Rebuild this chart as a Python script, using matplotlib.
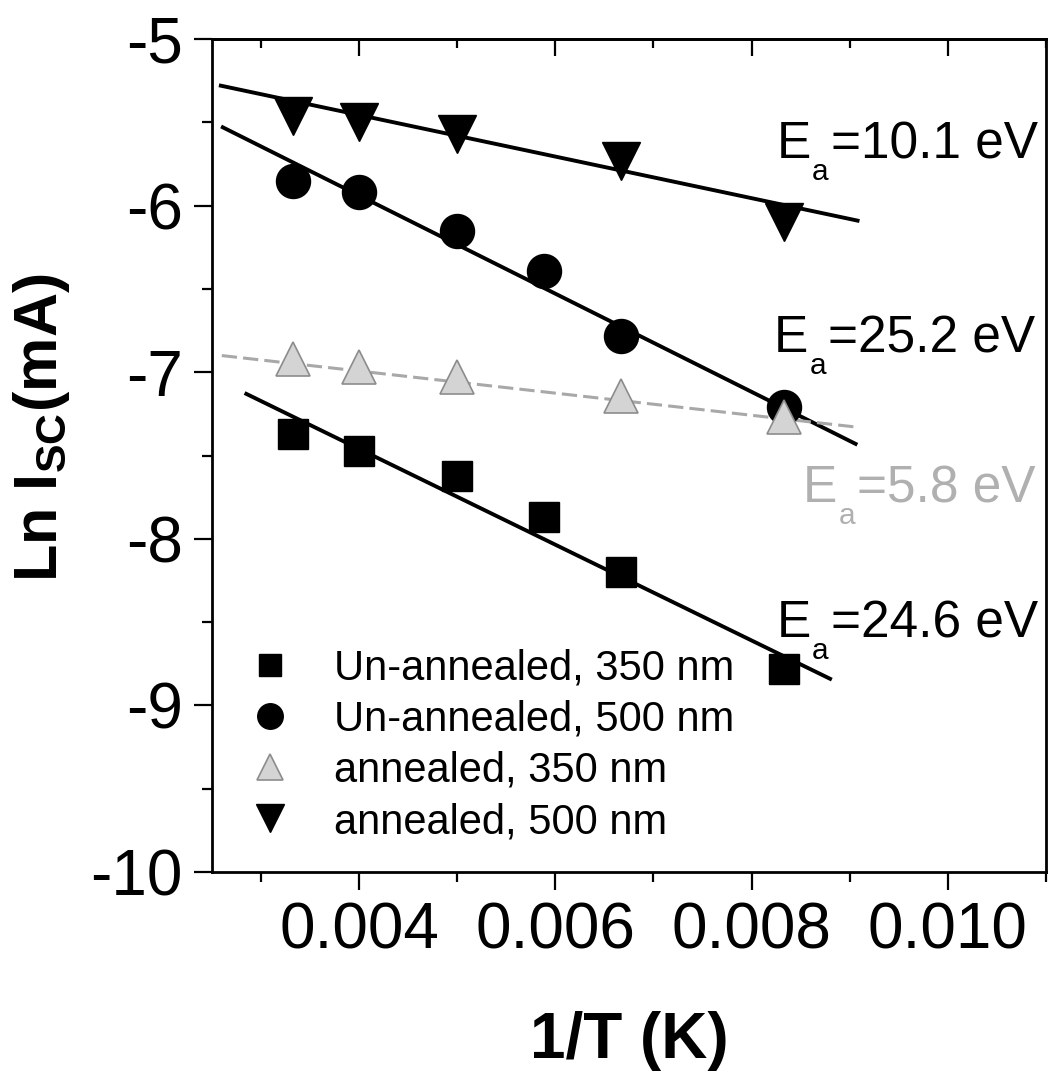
import numpy as np
import matplotlib.pyplot as plt
from matplotlib.ticker import MultipleLocator, FormatStrFormatter, NullFormatter

plt.rcParams['font.family'] = ['Liberation Sans', 'DejaVu Sans']
plt.rcParams['mathtext.fontset'] = 'custom'
plt.rcParams['mathtext.rm'] = 'Liberation Sans'
plt.rcParams['mathtext.bf'] = 'Liberation Sans:bold'
plt.rcParams['axes.unicode_minus'] = False

# 1/T values (300, 250, 200, 170, 150, 120 K)
inv_t_6 = [0.00333, 0.00400, 0.00500, 0.00588, 0.00667, 0.00833]
inv_t_5 = [0.00333, 0.00400, 0.00500, 0.00667, 0.00833]

# Ln Isc values
unann_350 = [-7.37, -7.47, -7.62, -7.87, -8.20, -8.78]
unann_500 = [-5.85, -5.92, -6.15, -6.39, -6.78, -7.21]
ann_350 = [-6.92, -6.97, -7.03, -7.14, -7.27]
ann_500 = [-5.46, -5.50, -5.57, -5.73, -6.10]

# linear fits as drawn (start / end)
unann_350_fit_x = [0.00285, 0.00880]
unann_350_fit_y = [-7.13, -8.84]
unann_500_fit_x = [0.00261, 0.00906]
unann_500_fit_y = [-5.53, -7.43]
ann_350_fit_x = [0.00260, 0.00908]
ann_350_fit_y = [-6.90, -7.33]
ann_500_fit_x = [0.00259, 0.00908]
ann_500_fit_y = [-5.28, -6.09]

legend_labels = ["Un-annealed, 350 nm", "Un-annealed, 500 nm",
                 "annealed, 350 nm", "annealed, 500 nm"]
ea_values = ["10.1 eV", "25.2 eV", "5.8 eV", "24.6 eV"]

gray_face = "#d4d4d4"
gray_edge = "#8c8c8c"
gray_line = "#a8a8a8"

fig = plt.figure(figsize=(10.48, 10.75), dpi=100)
ax = fig.add_axes([0.2023, 0.1888, 0.7957, 0.7749])

# fit lines
ax.plot(unann_350_fit_x, unann_350_fit_y, color="black", lw=2.8)
ax.plot(unann_500_fit_x, unann_500_fit_y, color="black", lw=2.8)
ax.plot(ann_350_fit_x, ann_350_fit_y, color=gray_line, lw=2.2,
        linestyle=(0, (5, 2)))
ax.plot(ann_500_fit_x, ann_500_fit_y, color="black", lw=2.8)

# data points
ax.plot(inv_t_6, unann_350, "s", color="black", ms=22,
        label=legend_labels[0])
ax.plot(inv_t_6, unann_500, "o", color="black", ms=24.5,
        label=legend_labels[1])
ax.plot(inv_t_5, ann_350, "^", markerfacecolor=gray_face,
        markeredgecolor=gray_edge, mew=1.2, ms=25, label=legend_labels[2])
ax.plot(inv_t_5, ann_500, "v", color="black", ms=27.5,
        label=legend_labels[3])


def ea_label(x, y, value, color="black", size=37):
    # "E" with a dropped subscript "a", then "=value"
    ax.annotate("E", (x, y), xycoords="axes fraction", fontsize=size,
                va="baseline", color=color)
    ax.annotate("a", (x, y), xycoords="axes fraction",
                xytext=(size * 0.667 + 1, -size * 0.42),
                textcoords="offset points", fontsize=size * 0.58,
                va="baseline", color=color)
    ax.annotate("=" + value, (x, y), xycoords="axes fraction",
                xytext=(size * 1.05, 0), textcoords="offset points",
                fontsize=size, va="baseline", color=color)


ea_label(0.677, 0.857, ea_values[0])
ea_label(0.674, 0.624, ea_values[1])
ea_label(0.709, 0.444, ea_values[2], color="#b0b0b0")
ea_label(0.677, 0.282, ea_values[3])

ax.set_xlim(0.0025, 0.011)
ax.set_ylim(-10, -5)

ax.xaxis.set_major_locator(MultipleLocator(0.002))
ax.xaxis.set_minor_locator(MultipleLocator(0.001))
ax.xaxis.set_major_formatter(FormatStrFormatter("%.3f"))
ax.yaxis.set_major_locator(MultipleLocator(1))
ax.yaxis.set_minor_locator(MultipleLocator(0.5))

ax.tick_params(which="major", direction="out", length=13, width=1.6,
               labelsize=46, pad=8)
ax.tick_params(which="minor", direction="out", length=7, width=1.6)

# top axis: inward ticks only
top = ax.secondary_xaxis("top")
top.xaxis.set_major_locator(MultipleLocator(0.002))
top.xaxis.set_minor_locator(MultipleLocator(0.001))
top.xaxis.set_major_formatter(NullFormatter())
top.tick_params(which="major", direction="in", length=12, width=1.6)
top.tick_params(which="minor", direction="in", length=6.5, width=1.6)
top.spines["top"].set_linewidth(2)

for s in ax.spines.values():
    s.set_linewidth(2)

ax.set_xlabel("1/T (K)", fontsize=46, fontweight="bold", labelpad=36)
ax.set_ylabel(r"Ln I$_{\mathbf{SC}}$(mA)", fontsize=44, fontweight="bold")
ax.yaxis.set_label_coords(-0.168, 0.533)

ax.legend(loc="upper left", bbox_to_anchor=(0.044, 0.2686), frameon=False,
          fontsize=30, markerscale=0.75, handlelength=1.0,
          handletextpad=1.05, labelspacing=0.27, borderpad=0,
          borderaxespad=0, numpoints=1)

fig.savefig("out.png", dpi=100)
